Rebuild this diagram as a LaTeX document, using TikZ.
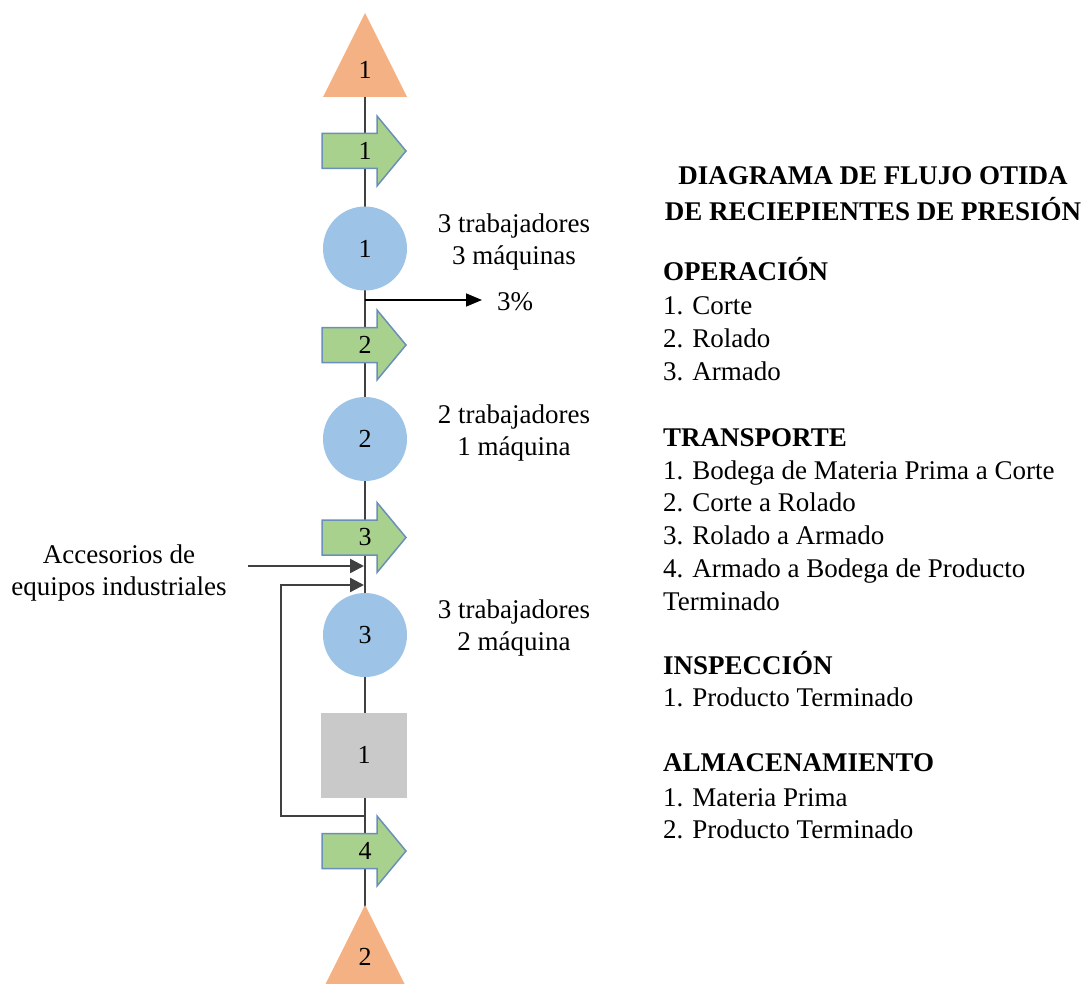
\documentclass[tikz,border=0pt]{standalone}
\usepackage{fontspec}
\setmainfont{LiberationSerif}[Extension=.ttf, UprightFont=*-Regular, BoldFont=*-Bold, ItalicFont=*-Italic, BoldItalicFont=*-BoldItalic]
\usetikzlibrary{arrows.meta}
\definecolor{triorange}{HTML}{F4B183}
\definecolor{arrgreen}{HTML}{A9D18E}
\definecolor{arredge}{HTML}{6A8FB8}
\definecolor{circblue}{HTML}{9DC3E6}
\definecolor{sqgray}{HTML}{C9C9C9}
\definecolor{linegray}{HTML}{404040}
\tikzset{
  txt/.style={font=\fontsize{27}{33}\selectfont, inner sep=0pt},
  head/.style={font=\fontsize{27}{33}\selectfont\bfseries, inner sep=0pt},
  numtxt/.style={font=\fontsize{26}{30}\selectfont, inner sep=0pt},
  circ/.style={circle, fill=circblue, minimum size=84pt, inner sep=0pt, font=\fontsize{26}{30}\selectfont},
  sq/.style={rectangle, fill=sqgray, minimum width=86pt, minimum height=85pt, inner sep=0pt, font=\fontsize{26}{30}\selectfont},
  flow/.style={draw=linegray, line width=2pt},
  inarrow/.style={draw=linegray, line width=2.4pt, -{Triangle[length=14pt,width=14pt]}},
  outarrow/.style={draw=black, line width=1.6pt, -{Triangle[length=16pt,width=13pt]}},
  arrowshape/.style={fill=arrgreen, draw=arredge, line width=1.5pt, line join=miter},
  tri/.style={fill=triorange}
}
\newcommand\flowarrow[3]{%
  \filldraw[arrowshape] (322,#2-17.5) -- (377,#2-17.5) -- (377,#2-35) -- (406,#2)
    -- (377,#2+35) -- (377,#2+17.5) -- (322,#2+17.5) -- cycle;
  \node[numtxt] (#1) at (365,#2) {#3};}
\begin{document}
\begin{tikzpicture}[x=1pt,y=-1pt]
\useasboundingbox (0,0) rectangle (1092,984);
\clip (0,0) rectangle (1092,984);
% main flow line
\coordinate (top) at (365,55);
\coordinate (bottom) at (365,960);
\draw[flow] (top) -- (bottom);
% reject arrow
\coordinate (p0) at (365,300);
\node[txt, anchor=base west] (pct) at (497,310) {3\%};
\draw[outarrow] (p0) -- ([xshift=-15pt]pct.west |- p0);
% input arrows
\coordinate (a0) at (248,566);
\coordinate (a1) at (364,566);
\draw[inarrow] (a0) -- (a1);
\coordinate (j) at (365,816);
\coordinate (f1) at (281,816);
\coordinate (f2) at (281,585);
\coordinate (a2) at (364,585);
\draw[inarrow] (j) -- (f1) -- (f2) -- (a2);
% shapes
\fill[tri] (365,13) -- (407,97) -- (323,97) -- cycle;
\node[numtxt] (tri1) at (365,70) {1};
\flowarrow{tr1}{151}{1}
\node[circ] (op1) at (365,248.5) {1};
\flowarrow{tr2}{345}{2}
\node[circ] (op2) at (365,439) {2};
\flowarrow{tr3}{537.5}{3}
\node[circ] (op3) at (365,635) {3};
\node[sq] (in1) at (364,755) {1};
\flowarrow{tr4}{851}{4}
\fill[tri] (365,905) -- (407,989) -- (323,989) -- cycle;
\node[numtxt] (tri2) at (365,957) {2};
% side labels
\node[txt, anchor=base] (l1a) at (514,233) {3 trabajadores};
\node[txt, anchor=base] (l1b) at (514,265) {3 máquinas};
\node[txt, anchor=base] (l2a) at (514,423) {2 trabajadores};
\node[txt, anchor=base] (l2b) at (514,455) {1 máquina};
\node[txt, anchor=base] (l3a) at (514,618) {3 trabajadores};
\node[txt, anchor=base] (l3b) at (514,650) {2 máquina};
\node[txt, anchor=base] (acc1) at (119,563) {Accesorios de};
\node[txt, anchor=base] (acc2) at (119,595) {equipos industriales};
% legend
\node[head, anchor=base] (t1) at (873,185) {DIAGRAMA DE FLUJO OTIDA};
\node[head, anchor=base] (t2) at (873,221) {DE RECIEPIENTES DE PRESIÓN};
\node[head, anchor=base west] (h1) at (663,281) {OPERACIÓN};
\node[txt, anchor=base west] (o1) at (663,314) {1. Corte};
\node[txt, anchor=base west] (o2) at (663,347) {2. Rolado};
\node[txt, anchor=base west] (o3) at (663,380) {3. Armado};
\node[head, anchor=base west] (h2) at (663,446) {TRANSPORTE};
\node[txt, anchor=base west] (r1) at (663,479) {1. Bodega de Materia Prima a Corte};
\node[txt, anchor=base west] (r2) at (663,511) {2. Corte a Rolado};
\node[txt, anchor=base west] (r3) at (663,544) {3. Rolado a Armado};
\node[txt, anchor=base west] (r4) at (663,577) {4. Armado a Bodega de Producto};
\node[txt, anchor=base west] (r5) at (663,610) {Terminado};
\node[head, anchor=base west] (h3) at (663,674) {INSPECCIÓN};
\node[txt, anchor=base west] (i1) at (663,706) {1. Producto Terminado};
\node[head, anchor=base west] (h4) at (663,771) {ALMACENAMIENTO};
\node[txt, anchor=base west] (m1) at (663,806) {1. Materia Prima};
\node[txt, anchor=base west] (m2) at (663,838) {2. Producto Terminado};
\end{tikzpicture}
\end{document}
